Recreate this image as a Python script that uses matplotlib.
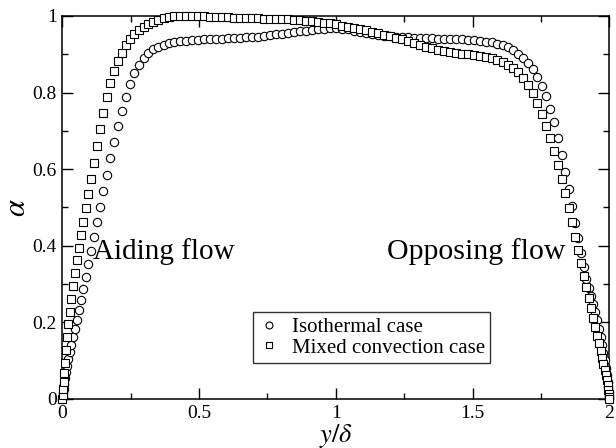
import matplotlib
matplotlib.use("Agg")
import matplotlib.pyplot as plt
from matplotlib.ticker import MultipleLocator, FormatStrFormatter

plt.rcParams['font.family'] = ['Liberation Serif', 'DejaVu Serif']
plt.rcParams['mathtext.fontset'] = 'stix'

# wall-normal grid, y/delta (stretched towards both walls)
y_grid = [
    0.0, 0.001, 0.0025, 0.0045, 0.007, 0.010, 0.0135, 0.0175, 0.022, 0.027,
    0.0325, 0.0385, 0.045, 0.052, 0.0595, 0.0675, 0.076, 0.085, 0.0945, 0.1045,
    0.115, 0.126, 0.1375, 0.1495, 0.162, 0.175, 0.1885, 0.2025, 0.217, 0.232,
    0.2475, 0.2635, 0.28, 0.297, 0.3145, 0.3325, 0.351, 0.37, 0.3895, 0.4095,
    0.43, 0.451, 0.4725, 0.4945,
    0.5165, 0.5385, 0.5605, 0.5825, 0.6045, 0.6265, 0.6485, 0.6705, 0.6925, 0.7145,
    0.7365, 0.7585, 0.7805, 0.8025, 0.8245, 0.8465, 0.8685, 0.8905, 0.9125, 0.9345,
    0.9565, 0.9785, 1.0,
    1.0215, 1.0435, 1.0655, 1.0875, 1.1095, 1.1315, 1.1535, 1.1755, 1.1975, 1.2195,
    1.2415, 1.2635, 1.2855, 1.3075, 1.3295, 1.3515, 1.3735, 1.3955, 1.4175, 1.4395,
    1.4615, 1.4835,
    1.5055, 1.5275, 1.549, 1.57, 1.5905, 1.6105, 1.63, 1.649, 1.6675, 1.6855,
    1.703, 1.72, 1.7365, 1.7525, 1.768, 1.783, 1.7975, 1.8115, 1.825, 1.838,
    1.8505, 1.8625, 1.874, 1.885, 1.8955, 1.9055, 1.915, 1.924, 1.9325, 1.9405,
    1.948, 1.955, 1.9615, 1.9675, 1.973, 1.978, 1.9825, 1.9865, 1.99, 1.993,
    1.9955, 1.9975, 1.999, 2.0,
]

# alpha, isothermal case
alpha_iso = [
    0.0, 0.006, 0.015, 0.026, 0.039, 0.054, 0.070, 0.087, 0.105, 0.123,
    0.142, 0.162, 0.184, 0.207, 0.232, 0.259, 0.288, 0.319, 0.352, 0.387,
    0.423, 0.461, 0.501, 0.542, 0.585, 0.628, 0.670, 0.712, 0.752, 0.789,
    0.822, 0.850, 0.873, 0.891, 0.904, 0.913, 0.920, 0.925, 0.929, 0.932,
    0.934, 0.936, 0.937, 0.938,
    0.939, 0.940, 0.940, 0.941, 0.942, 0.942, 0.943, 0.944, 0.945, 0.946,
    0.948, 0.950, 0.952, 0.954, 0.956, 0.958, 0.960, 0.962, 0.964, 0.966,
    0.967, 0.968, 0.968,
    0.967, 0.965, 0.962, 0.959, 0.956, 0.953, 0.951, 0.949, 0.947, 0.946,
    0.945, 0.944, 0.943, 0.943, 0.942, 0.942, 0.941, 0.941, 0.940, 0.940,
    0.939, 0.938,
    0.937, 0.935, 0.933, 0.931, 0.928, 0.924, 0.918, 0.911, 0.902, 0.891,
    0.878, 0.862, 0.842, 0.818, 0.790, 0.758, 0.722, 0.681, 0.637, 0.592,
    0.547, 0.503, 0.460, 0.420, 0.380, 0.345, 0.313, 0.290, 0.268, 0.247,
    0.227, 0.207, 0.183, 0.162, 0.141, 0.121, 0.101, 0.081, 0.062, 0.045,
    0.030, 0.017, 0.007, 0.0,
]

# alpha, mixed convection case
alpha_mix = [
    0.0, 0.010, 0.025, 0.045, 0.068, 0.095, 0.127, 0.161, 0.195, 0.227,
    0.260, 0.294, 0.328, 0.362, 0.394, 0.428, 0.463, 0.499, 0.535, 0.574,
    0.616, 0.660, 0.705, 0.748, 0.789, 0.825, 0.856, 0.882, 0.903, 0.924,
    0.941, 0.953, 0.963, 0.972, 0.979, 0.985, 0.990, 0.994, 0.997, 0.999,
    1.0, 1.0, 1.0, 0.999,
    0.999, 0.998, 0.998, 0.997, 0.997, 0.996, 0.996, 0.995, 0.995, 0.994,
    0.993, 0.993, 0.992, 0.991, 0.991, 0.990, 0.989, 0.988, 0.987, 0.985,
    0.983, 0.981, 0.978,
    0.975, 0.972, 0.969, 0.966, 0.963, 0.959, 0.955, 0.951, 0.947, 0.943,
    0.939, 0.935, 0.930, 0.925, 0.920, 0.916, 0.912, 0.909, 0.906, 0.904,
    0.902, 0.900,
    0.898, 0.896, 0.893, 0.890, 0.886, 0.880, 0.873, 0.864, 0.853, 0.838,
    0.820, 0.798, 0.772, 0.744, 0.714, 0.682, 0.648, 0.612, 0.575, 0.537,
    0.499, 0.461, 0.424, 0.389, 0.355, 0.322, 0.292, 0.264, 0.237, 0.211,
    0.187, 0.165, 0.145, 0.126, 0.108, 0.091, 0.076, 0.062, 0.049, 0.036,
    0.024, 0.014, 0.006, 0.0,
]

fig = plt.figure(figsize=(6.16, 4.48), dpi=100)
ax = fig.add_axes([0.1011, 0.1094, 0.8883, 0.8549])

ax.plot(y_grid, alpha_iso, 'o', ms=6, mfc='white', mec='black', mew=0.8,
        clip_on=False, label='Isothermal case', zorder=3)
ax.plot(y_grid, alpha_mix, 's', ms=5.2, mfc='white', mec='black', mew=0.8,
        clip_on=False, label='Mixed convection case', zorder=3)

ax.set_xlim(0, 2)
ax.set_ylim(0, 1)

ax.xaxis.set_major_locator(MultipleLocator(0.5))
ax.xaxis.set_minor_locator(MultipleLocator(0.25))
ax.yaxis.set_major_locator(MultipleLocator(0.2))
ax.yaxis.set_minor_locator(MultipleLocator(0.1))
ax.xaxis.set_major_formatter(FormatStrFormatter('%g'))
ax.yaxis.set_major_formatter(FormatStrFormatter('%g'))
ax.tick_params(which='both', direction='in', top=True, right=True,
               width=1.0, labelsize=14)
ax.tick_params(which='major', length=8, pad=4)
ax.tick_params(which='minor', length=4)
for s in ax.spines.values():
    s.set_linewidth(1.1)

ax.set_xlabel(r'$y/\delta$', fontsize=19, labelpad=0)
ax.set_ylabel(r'$\alpha$', fontsize=22, labelpad=0)

ax.text(0.372, 0.385, 'Aiding flow', fontsize=21, ha='center', va='center')
ax.text(1.514, 0.385, 'Opposing flow', fontsize=21.5, ha='center', va='center')

leg = ax.legend(loc='lower left', bbox_to_anchor=(0.349, 0.094), fontsize=15,
                frameon=True, fancybox=False, edgecolor='black',
                handlelength=1.0, handletextpad=0.6, borderpad=0.25,
                labelspacing=0.05, borderaxespad=0)
leg.get_frame().set_linewidth(1.0)
for h in leg.legend_handles:
    h.set_markersize(5)

fig.savefig('out.png', dpi=100)
